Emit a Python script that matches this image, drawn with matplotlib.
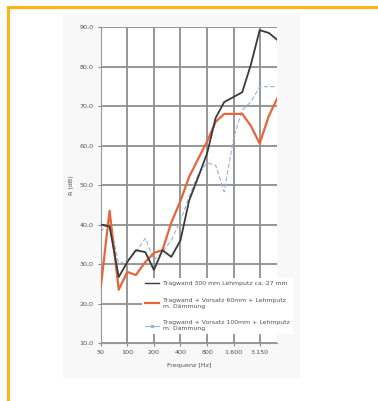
import matplotlib
matplotlib.use("Agg")
import matplotlib.pyplot as plt
from matplotlib.patches import Rectangle
from matplotlib.lines import Line2D

# Terzbaender 50 Hz - 5000 Hz
freq = [50, 63, 80, 100, 125, 160, 200, 250, 315, 400, 500, 630, 800,
        1000, 1250, 1600, 2000, 2500, 3150, 4000, 5000]

r_tragwand = [40.0, 39.5, 26.7, 30.5, 33.5, 33.0, 28.5, 33.5, 31.8, 36.0, 46.0,
              51.8, 58.0, 67.0, 71.0, 72.3, 73.5, 80.4, 89.2, 88.5, 86.7]
r_vorsatz_60 = [24.0, 43.5, 23.5, 28.0, 27.2, 30.5, 32.8, 33.5, 40.5, 46.0, 52.0,
                56.5, 61.0, 66.0, 68.0, 68.0, 68.0, 65.0, 60.5, 67.5, 72.0]
r_vorsatz_100 = [38.0, 41.0, 30.0, 31.0, 33.0, 36.5, 31.0, 33.0, 36.0, 41.0, 47.0,
                 52.5, 55.6, 55.0, 48.3, 62.0, 69.0, 71.0, 74.9, 74.9, 74.9]

labels = ["Tragwand 300 mm Lehmputz ca. 27 mm",
          "Tragwand + Vorsatz 60mm + Lehmputz\nm. Dämmung",
          "Tragwand + Vorsatz 100mm + Lehmputz\nm. Dämmung"]

xticks = [50, 100, 200, 400, 800, 1600, 3150]
xtick_labels = ["50", "100", "200", "400", "800", "1.600", "3.150"]
yticks = [10, 20, 30, 40, 50, 60, 70, 80, 90]

fig = plt.figure(figsize=(3.78, 4.01), dpi=100)

# Rahmen oben und links
fig.add_artist(Line2D([8 / 378, 1], [1 - 6.5 / 401] * 2, color="#FDB515", lw=2.2))
fig.add_artist(Line2D([8.3 / 378] * 2, [1 - 6.5 / 401, 0], color="#FDB515", lw=2.2))
fig.add_artist(Rectangle((63 / 378, 1 - 378 / 401), 237 / 378, 364 / 401,
                         transform=fig.transFigure, facecolor="#f8f8f8",
                         edgecolor="none", zorder=-5))

ax = fig.add_axes([100.7 / 378, 1 - 343 / 401, 176.7 / 378, 316 / 401])
ax.set_facecolor("white")
ax.set_xscale("log")
ax.set_xlim(50, 5000)
ax.set_ylim(10, 90)

ax.plot(freq, r_tragwand, color="#3a3a3a", lw=1.3, zorder=4)
ax.plot(freq, r_vorsatz_60, color="#E8643A", lw=1.6, zorder=3)
ax.plot(freq, r_vorsatz_100, color="#9BB0DA", lw=0.8, ls=(0, (4, 2)), zorder=2)

ax.set_xticks(xticks)
ax.set_xticklabels(xtick_labels)
ax.xaxis.set_minor_locator(plt.NullLocator())
ax.set_yticks(yticks)
ax.set_yticklabels([f"{v},0" for v in yticks])
ax.tick_params(labelsize=4.6, labelcolor="#505050", color="#888888",
               length=2, width=0.8, pad=3)
ax.grid(True, color="#8f8f8f", lw=1.3)
for side in ["top", "right"]:
    ax.spines[side].set_visible(False)
for side in ["left", "bottom"]:
    ax.spines[side].set_color("#999999")

ax.set_xlabel("Frequenz [Hz]", fontsize=4.6, color="#505050", labelpad=6)
ax.set_ylabel("R (dB)", fontsize=4.6, color="#505050", labelpad=4)

handles = [Line2D([], [], color="#3a3a3a", lw=1.0),
           Line2D([], [], color="#E8643A", lw=1.6),
           Line2D([], [], color="#9BB0DA", lw=0.8, marker="x", ms=2)]
leg = ax.legend(handles, labels, loc="upper left",
                bbox_to_anchor=(139 / 378, 1 - 275 / 401),
                bbox_transform=fig.transFigure, fontsize=4.4,
                frameon=True, framealpha=1, facecolor="white", edgecolor="none",
                handlelength=2.3, handletextpad=0.6, labelspacing=1.9,
                borderpad=0.5, fancybox=False)
for t in leg.get_texts():
    t.set_color("#505050")
leg.set_zorder(10)

fig.savefig("out.png", dpi=100)
